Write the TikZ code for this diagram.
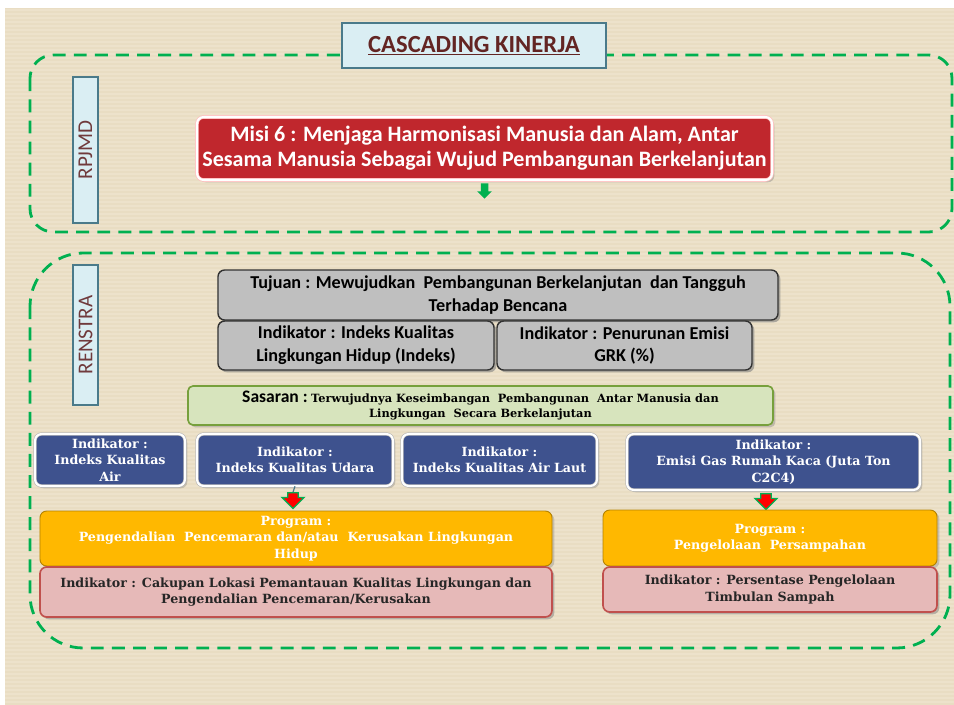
\documentclass[tikz,border=0pt]{standalone}
\usepackage{fontspec}
\setmainfont{Carlito}
\newfontfamily\serfont{DejaVu Serif}
\usetikzlibrary{positioning,shapes.arrows,shadows}

\definecolor{bgbeige}{RGB}{233,221,195}
\definecolor{bgstripe}{RGB}{237,226,203}
\definecolor{dashgreen}{RGB}{0,176,80}
\definecolor{lightblue}{RGB}{218,238,243}
\definecolor{slate}{RGB}{74,122,138}
\definecolor{brownText}{RGB}{99,37,35}
\definecolor{sideText}{RGB}{112,58,60}
\definecolor{misiRed}{RGB}{192,39,45}
\definecolor{grayFill}{RGB}{191,191,191}
\definecolor{grayLine}{RGB}{50,50,50}
\definecolor{sageFill}{RGB}{215,228,189}
\definecolor{sageLine}{RGB}{119,160,60}
\definecolor{navyFill}{RGB}{62,82,142}
\definecolor{amberFill}{RGB}{255,184,0}
\definecolor{amberLine}{RGB}{180,130,0}
\definecolor{roseFill}{RGB}{230,185,184}
\definecolor{roseLine}{RGB}{192,80,77}

\begin{document}
\begin{tikzpicture}[x=0.03cm, y=-0.03cm,
    every node/.style={inner sep=0cm, align=center, text centered},
    dashframe/.style={dashed, dash pattern=on 11pt off 7pt, line width=2.4pt, draw=dashgreen},
    titlebox/.style={rectangle, draw=slate, line width=1.2pt, fill=lightblue, text=brownText, font=\fontsize{21}{23}\selectfont\bfseries},
    sidebox/.style={rectangle, draw=slate, line width=1.2pt, fill=lightblue, text=sideText, rotate=90, minimum height=0.75cm, font=\fontsize{18}{20}\selectfont},
    misibox/.style={rectangle, rounded corners=0.2cm, fill=misiRed, draw=red!25, double=white, double distance=1.8pt, line width=0.6pt, text=white, drop shadow={shadow xshift=2pt, shadow yshift=-2pt, opacity=0.4}, font=\fontsize{18.8}{21.5}\selectfont\bfseries},
    graybox/.style={rectangle, rounded corners=0.2cm, fill=grayFill, draw=grayLine, line width=1.2pt, drop shadow={shadow xshift=2pt, shadow yshift=-2pt, opacity=0.6}, font=\fontsize{15.5}{19.5}\selectfont\bfseries},
    sagebox/.style={rectangle, rounded corners=0.15cm, fill=sageFill, draw=sageLine, line width=1.4pt, drop shadow={shadow xshift=2pt, shadow yshift=-2pt, opacity=0.4}},
    navybox/.style={rectangle, rounded corners=0.2cm, fill=navyFill, draw=gray!60, double=white, double distance=1.8pt, line width=0.5pt, text=white, drop shadow={shadow xshift=2pt, shadow yshift=-2pt, opacity=0.35}, font=\serfont\fontsize{10.8}{14}\selectfont\bfseries},
    amberbox/.style={rectangle, rounded corners=0.2cm, fill=amberFill, draw=amberLine, line width=0.8pt, text=white, drop shadow={shadow xshift=2pt, shadow yshift=-2pt, opacity=0.35}, font=\serfont\fontsize{10.8}{14}\selectfont\bfseries},
    rosebox/.style={rectangle, rounded corners=0.2cm, fill=roseFill, draw=roseLine, line width=1.4pt, text=black!85, drop shadow={shadow xshift=2pt, shadow yshift=-2pt, opacity=0.5}, font=\serfont\fontsize{10.8}{14}\selectfont\bfseries},
    greenArrow/.style={single arrow, fill=dashgreen, shape border rotate=270, inner sep=3pt, minimum height=0.46cm, single arrow head extend=3pt},
    redArrow/.style={single arrow, fill=red, draw=dashgreen, line width=1pt, shape border rotate=270, inner sep=4pt, minimum height=0.44cm, single arrow head extend=5pt}]

    \useasboundingbox (0,0) rectangle (954,705);
    % background
    \fill[bgbeige] (5,8) rectangle (954,705);
    \foreach \y in {10,14,...,702}
        \draw[bgstripe, line width=1.2pt] (5,\y) -- (954,\y);

    % frames
    \draw[dashframe, rounded corners=0.7cm] (30,55) rectangle (952,232);
    \draw[dashframe, rounded corners=1.6cm] (30,253) rectangle (950,648);

    \node (title) [titlebox, minimum width=7.92cm, minimum height=1.35cm] at (474,45.5) {\underline{CASCADING KINERJA}};

    \node (rpjmd) [sidebox, minimum width=4.38cm] at (85.5,150) {RPJMD};
    \node (renstra) [sidebox, minimum width=4.2cm] at (85.5,335) {RENSTRA};

    \node (misi) [misibox, minimum width=17.25cm, minimum height=1.89cm] at (484.5,148.5) {
        Misi 6 : Menjaga Harmonisasi Manusia dan Alam, Antar \\ Sesama Manusia Sebagai Wujud Pembangunan Berkelanjutan
    };
    \node (misiArrow) [greenArrow, below=0.08cm of misi] {};

    \node (tujuan) [graybox, minimum width=16.8cm, minimum height=1.5cm] at (498,295) {
        Tujuan : Mewujudkan~ Pembangunan Berkelanjutan~ dan Tangguh \\ Terhadap Bencana
    };
    \node (indLH) [graybox, minimum width=8.28cm, minimum height=1.47cm] at (356,345.5) {
        Indikator : Indeks Kualitas \\ Lingkungan Hidup (Indeks)
    };
    \node (indGRK) [graybox, minimum width=7.65cm, minimum height=1.47cm] at (624.5,345.5) {
        Indikator : Penurunan Emisi \\ GRK (\%)
    };

    \node (sasaran) [sagebox, minimum width=17.55cm, minimum height=1.17cm] at (480.5,405.5) {
        {\fontsize{15}{15}\selectfont\bfseries Sasaran :} {\serfont\fontsize{9.7}{14}\selectfont\bfseries Terwujudnya Keseimbangan~ Pembangunan~ Antar Manusia dan} \\
        {\serfont\fontsize{9.7}{14}\selectfont\bfseries Lingkungan~ Secara Berkelanjutan}
    };

    \node (ikAir) [navybox, minimum width=4.5cm, minimum height=1.56cm] at (110,460) {
        Indikator : \\ Indeks Kualitas \\ Air
    };
    \node (ikUdara) [navybox, minimum width=5.88cm, minimum height=1.56cm] at (295,460) {
        Indikator : \\ Indeks Kualitas Udara
    };
    \node (ikLaut) [navybox, minimum width=5.85cm, minimum height=1.56cm] at (499.5,460) {
        Indikator : \\ Indeks Kualitas Air Laut
    };
    \node (ikEmisi) [navybox, minimum width=8.79cm, minimum height=1.68cm] at (773.5,462) {
        Indikator : \\ Emisi Gas Rumah Kaca (Juta Ton \\ C2C4)
    };

    \node (redArrowA) [redArrow] at (293,498) {};
    \node (redArrowB) [redArrow] at (766,499) {};
    \draw[slate, line width=1pt] (ikUdara.south) -- (redArrowA.tail);

    \node (progPencemaran) [amberbox, minimum width=15.36cm, minimum height=1.65cm] at (296,538.5) {
        Program : \\ Pengendalian~ Pencemaran dan/atau~ Kerusakan Lingkungan \\ Hidup
    };
    \node (indPencemaran) [rosebox, minimum width=15.36cm, minimum height=1.5cm] at (296,592) {
        Indikator : Cakupan Lokasi Pemantauan Kualitas Lingkungan dan \\ Pengendalian Pencemaran/Kerusakan
    };
    \node (progSampah) [amberbox, minimum width=10.02cm, minimum height=1.68cm] at (770,538) {
        Program : \\ Pengelolaan~ Persampahan
    };
    \node (indSampah) [rosebox, minimum width=10.02cm, minimum height=1.35cm] at (770,589.5) {
        Indikator : Persentase Pengelolaan \\ Timbulan Sampah
    };
\end{tikzpicture}
\end{document}
